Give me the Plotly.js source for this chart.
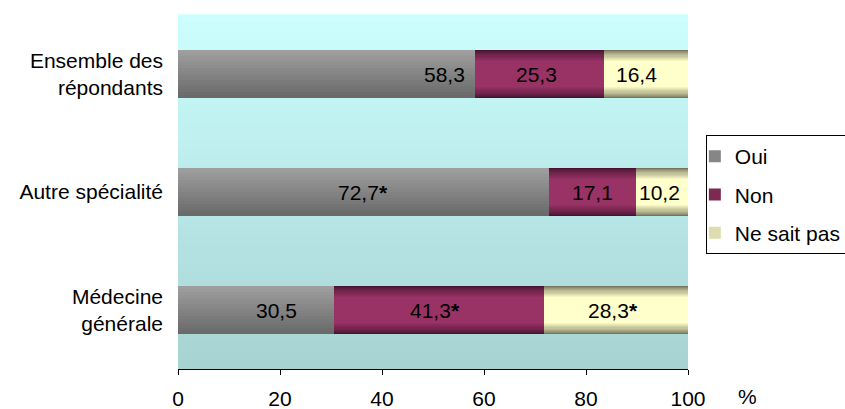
<!DOCTYPE html>
<html><head><meta charset="utf-8">
<script src="https://cdn.plot.ly/plotly-3.0.1.min.js"></script>
<style>html,body{margin:0;padding:0;background:#fff}#chart{width:845px;height:409px}</style>
</head><body><div id="chart"></div>
<script>
// ---- data ----
const categories = ['Médecine générale', 'Autre spécialité', 'Ensemble des répondants'];
const categoryLabels = ['Médecine<br>générale', 'Autre spécialité', 'Ensemble des<br>répondants'];
const seriesNames = ['Oui', 'Non', 'Ne sait pas'];
const oui = [30.5, 72.7, 58.3];
const non = [41.3, 17.1, 25.3];
const nsp = [28.3, 10.2, 16.4];
const ouiStar = [false, true, false];
const nonStar = [true, false, false];
const nspStar = [true, false, false];
const xTicks = [0, 20, 40, 60, 80, 100];
const axisUnit = '%';

// ---- styling ----
const FONT = 'Liberation Sans, Arial, sans-serif';
const FS = 21;
const series = [oui, non, nsp];
const stars = [ouiStar, nonStar, nspStar];
const labelNudgePx = [[21, 0, 118], [-4, 0, -3], [-3, -2, -10]]; // label placement tweaks (px)
const BAR_W = 0.415;
const N = 16;

function lerp(a, b, t) { return a.map((v, i) => Math.round(v + (b[i] - v) * t)); }
function rgb(c) { return 'rgb(' + c[0] + ',' + c[1] + ',' + c[2] + ')'; }

const bases = [categories.map(() => 0), oui.slice(), oui.map((v, i) => v + non[i])];

const traces = [];
// Oui: light at top, dark at bottom -> nested bars sharing the top edge
for (let i = 0; i < N; i++) {
  const lo = i * BAR_W / N;
  const t = i / (N - 1);
  traces.push({
    type: 'bar', orientation: 'h', y: categories, x: oui, base: bases[0],
    width: BAR_W - lo, offset: -BAR_W / 2 + lo,
    marker: { color: rgb(lerp([106, 106, 106], [158, 158, 158], t)), line: { width: 0 } },
    name: seriesNames[0], legendgroup: seriesNames[0],
    showlegend: i === Math.floor(N / 2), hoverinfo: 'skip'
  });
}
// Non & Ne sait pas: dark edges, light centre -> nested centred bars
const edgeCols = [null, [70, 20, 48], [118, 118, 92]];
const midCols = [null, [153, 51, 102], [255, 255, 204]];
const legendStep = [null, 6, 7];
[1, 2].forEach(s => {
  const K = 10;
  const ramp = 0.24;
  for (let i = 0; i <= K; i++) {
    const inset = (i / K) * ramp * BAR_W;
    const f = Math.pow(i / K, 0.8);
    traces.push({
      type: 'bar', orientation: 'h', y: categories, x: series[s], base: bases[s],
      width: BAR_W - 2 * inset, offset: -BAR_W / 2 + inset,
      marker: { color: rgb(lerp(edgeCols[s], midCols[s], f)), line: { width: 0 } },
      name: seriesNames[s], legendgroup: seriesNames[s],
      showlegend: i === legendStep[s], hoverinfo: 'skip'
    });
  }
});

const fmt = v => v.toFixed(1).replace('.', ',');
const annotations = [];
series.forEach((vals, s) => {
  vals.forEach((v, k) => {
    annotations.push({
      x: bases[s][k] + v / 2, y: categories[k], xref: 'x', yref: 'y',
      text: fmt(v) + (stars[s][k] ? '<b>*</b>' : ''),
      showarrow: false, xshift: labelNudgePx[s][k],
      font: { family: FONT, size: FS, color: '#000' }
    });
  });
});
annotations.push({
  x: 1.1176, y: -0.079, xref: 'paper', yref: 'paper', text: axisUnit,
  showarrow: false, xanchor: 'center', yanchor: 'middle',
  font: { family: FONT, size: FS, color: '#000' }
});

const shapes = [];
const M = 40;
for (let i = 0; i < M; i++) {
  const t = (i + 0.5) / M;
  shapes.push({
    type: 'rect', xref: 'paper', yref: 'paper', layer: 'below',
    x0: 0, x1: 1, y0: i / M, y1: (i + 1) / M + 0.002,
    line: { width: 0 }, fillcolor: rgb(lerp([167, 210, 210], [204, 255, 255], t))
  });
}

const layout = {
  width: 845, height: 409,
  margin: { l: 178, r: 157, t: 15, b: 40, pad: 0, autoexpand: false },
  paper_bgcolor: '#fff', plot_bgcolor: '#bae8e8',
  barmode: 'overlay', bargap: 0,
  font: { family: FONT, size: FS, color: '#000' },
  xaxis: {
    range: [0, 100], tickvals: xTicks, ticktext: xTicks.map(String),
    ticks: 'outside', ticklen: 5, tickcolor: '#000', tickwidth: 1,
    showline: true, linecolor: '#000', linewidth: 1,
    showgrid: false, zeroline: false, fixedrange: true,
    ticklabelstandoff: 6, automargin: false,
    tickfont: { family: FONT, size: FS, color: '#000' }
  },
  yaxis: {
    type: 'category', categoryorder: 'array', categoryarray: categories,
    range: [-0.5, 2.5], tickvals: categories, ticktext: categoryLabels,
    ticks: '', showline: false, showgrid: false, zeroline: false, fixedrange: true,
    ticklabelstandoff: 14, automargin: false,
    tickfont: { family: FONT, size: FS, color: '#000' }
  },
  legend: {
    x: 1.035, y: 0.661, xanchor: 'left', yanchor: 'top',
    bgcolor: '#fff', bordercolor: '#000', borderwidth: 1,
    traceorder: 'grouped', tracegroupgap: 8, indentation: -12,
    font: { family: FONT, size: FS, color: '#000' }
  },
  shapes: shapes,
  annotations: annotations,
  showlegend: true
};

Plotly.newPlot('chart', traces, layout, { displayModeBar: false, staticPlot: true });
</script>
</body></html>
